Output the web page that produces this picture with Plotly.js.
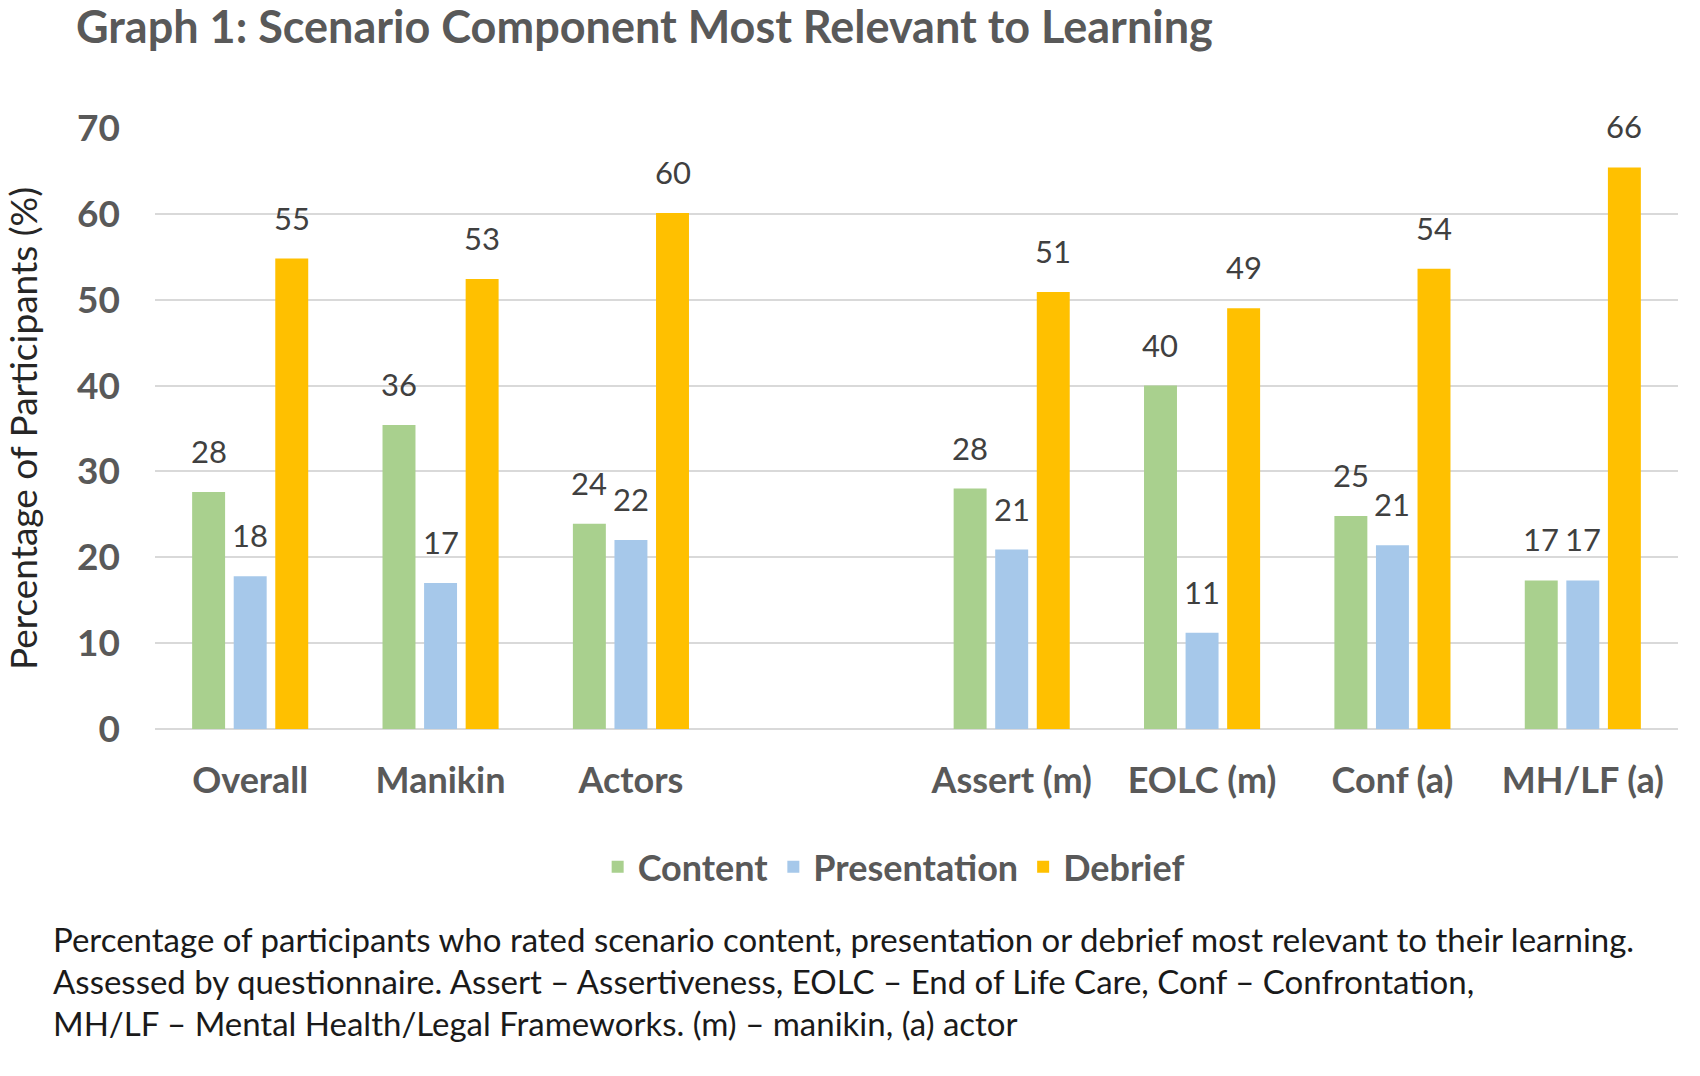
<!DOCTYPE html>
<html>
<head>
<meta charset="utf-8">
<script src="https://cdn.plot.ly/plotly-3.0.1.min.js"></script>
<style>html,body{margin:0;padding:0;background:#fff;}#chart{width:1700px;height:1076px;}</style>
</head>
<body>
<div id="chart"></div>
<script>
// Category axis (the blank entry is the visual gap between the two groups)
const categoryOrder = ['Overall', 'Manikin', 'Actors', ' ', 'Assert (m)', 'EOLC (m)', 'Conf (a)', 'MH/LF (a)'];
const categories = ['Overall', 'Manikin', 'Actors', 'Assert (m)', 'EOLC (m)', 'Conf (a)', 'MH/LF (a)'];

// Bar heights and printed labels
const content = [27.6, 35.4, 23.9, 28.0, 40.0, 24.8, 17.3];
const presentation = [17.8, 17.0, 22.0, 20.9, 11.2, 21.4, 17.3];
const debrief = [54.8, 52.4, 60.1, 50.9, 49.0, 53.6, 65.4];
const contentLabels = ['28', '36', '24', '28', '40', '25', '17'];
const presentationLabels = ['18', '17', '22', '21', '11', '21', '17'];
const debriefLabels = ['55', '53', '60', '51', '49', '54', '66'];

const seriesNames = ['Content', 'Presentation', 'Debrief'];
const yTicks = [0, 10, 20, 30, 40, 50, 60, 70];

const captionLines = [
  'Percentage of participants who rated scenario content, presentation or debrief most relevant to their learning.',
  'Assessed by questionnaire. Assert \u2013 Assertiveness, EOLC \u2013 End of Life Care, Conf \u2013 Confrontation,',
  'MH/LF \u2013 Mental Health/Legal Frameworks. (m) \u2013 manikin, (a) actor'
];

const colors = ['#A9D08E', '#A6C8EA', '#FFC000'];
const FONT = 'Lato, "Open Sans", sans-serif';

const seriesValues = [content, presentation, debrief];
const seriesLabels = [contentLabels, presentationLabels, debriefLabels];

const traces = seriesValues.map((vals, i) => ({
  type: 'bar',
  name: seriesNames[i],
  x: categories,
  y: vals,
  marker: {color: colors[i]},
  hoverinfo: 'x+y+name'
}));

const slot = 41.57;
const annotations = [];
seriesValues.forEach((vals, i) => {
  vals.forEach((v, j) => {
    annotations.push({
      x: categories[j], y: v, xref: 'x', yref: 'y',
      text: seriesLabels[i][j],
      showarrow: false,
      xshift: (i - 1) * slot,
      yshift: 41,
      yanchor: 'middle',
      font: {family: FONT, size: 31, color: '#404040'}
    });
  });
});

const capTop = [939, 981, 1023];
captionLines.forEach((line, k) => {
  annotations.push({
    xref: 'paper', yref: 'paper',
    x: (51 - 155) / 1523, y: (729 - capTop[k]) / 601.5,
    xanchor: 'left', yanchor: 'middle',
    text: line, showarrow: false, align: 'left',
    font: {family: FONT, size: 33, color: '#1a1a1a'}
  });
});

const layout = {
  width: 1700, height: 1076,
  paper_bgcolor: '#ffffff', plot_bgcolor: '#ffffff',
  margin: {l: 155, r: 22, t: 127.5, b: 347, autoexpand: false},
  title: {
    text: 'Graph 1: Scenario Component Most Relevant to Learning',
    x: 76 / 1700, xanchor: 'left', xref: 'container',
    y: 1 - 27 / 1076, yanchor: 'middle', yref: 'container',
    font: {family: FONT, size: 45, color: '#595959', weight: 'bold'}
  },
  barmode: 'group',
  bargap: 0.345,
  bargroupgap: 0.207,
  showlegend: true,
  legend: {
    orientation: 'h', x: 0.485, xanchor: 'center', y: (729 - 867) / 601.5, yanchor: 'middle',
    font: {family: FONT, size: 36, color: '#595959', weight: 'bold'},
    itemwidth: 30, traceorder: 'normal'
  },
  xaxis: {
    type: 'category', categoryorder: 'array', categoryarray: categoryOrder,
    range: [-0.5, 7.5],
    showgrid: false, zeroline: false, showline: false, ticks: '',
    ticklabelstandoff: 27,
    tickfont: {family: FONT, size: 36, color: '#595959', weight: 'bold'},
    automargin: false
  },
  yaxis: {
    range: [0, 70], tickvals: yTicks, ticktext: yTicks.map(String),
    showgrid: true, gridcolor: '#D9D9D9', gridwidth: 2,
    zeroline: true, zerolinecolor: '#D9D9D9', zerolinewidth: 2,
    showline: false, ticks: '',
    ticklabelstandoff: 34,
    tickfont: {family: FONT, size: 37, color: '#595959', weight: 'bold'},
    title: {text: 'Percentage of Participants (%)', standoff: 35,
            font: {family: FONT, size: 37, color: '#262626'}},
    automargin: false
  },
  annotations: annotations
};

Plotly.newPlot('chart', traces, layout, {displayModeBar: false, responsive: false});
</script>
</body>
</html>
